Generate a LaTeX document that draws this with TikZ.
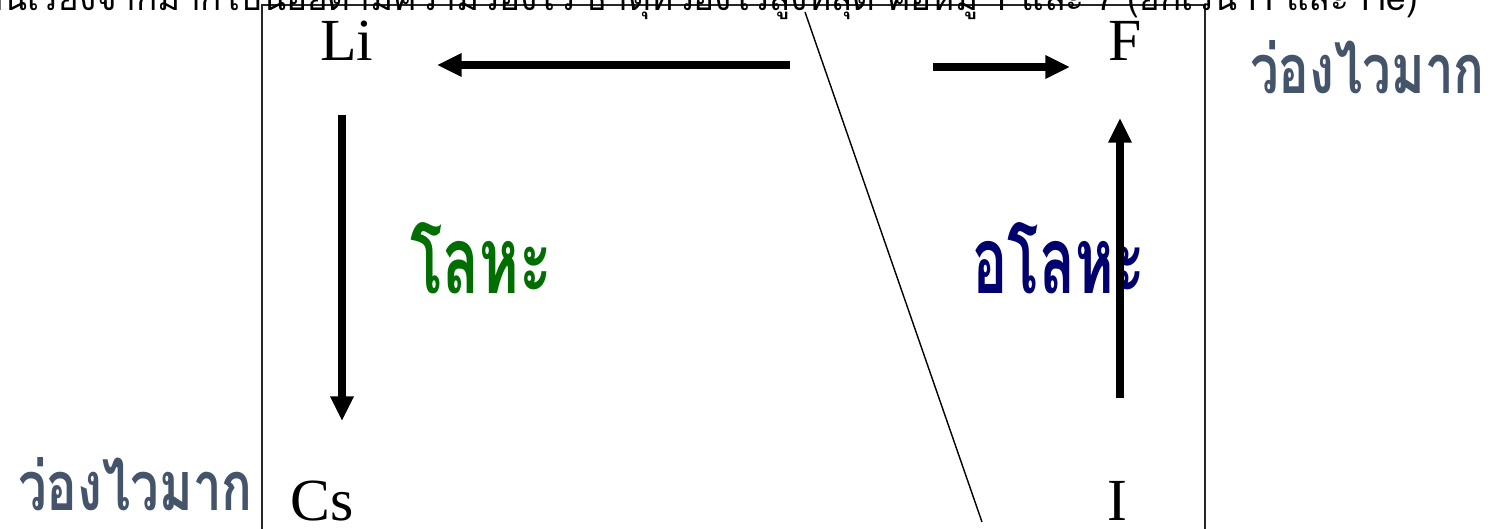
\documentclass[tikz,border=0pt]{standalone}
\usepackage{fontspec}
\setmainfont{Liberation Serif}
\newfontfamily\thai[Script=Thai]{Loma}
\usetikzlibrary{arrows.meta}
\definecolor{slate}{RGB}{68,84,106}
\definecolor{metalgreen}{RGB}{0,110,0}
\definecolor{navytext}{RGB}{0,0,110}
\newlength\pxu
\setlength\pxu{0.02cm}
\begin{document}
\begin{tikzpicture}[x=0.02cm,y=-0.02cm,
  elem/.style={inner sep=0pt, anchor=base west, font=\fontsize{34}{34}\selectfont},
  fatarrow/.style={line width=4pt, -{Triangle[length=14pt,width=12.5pt]}},
  boxline/.style={line width=0.9pt, draw=black!85},
  hairline/.style={line width=0.8pt},
  tlabel/.style={inner sep=0pt, anchor=north west}]
\clip (0,0) rectangle (1499,528);
\fill[white] (0,0) rectangle (1499,528);
% frame
\draw[boxline] (262,560) -- (262,5) -- (1205,5) -- (1205,560);
% cut-off heading
\node[inner sep=0pt, anchor=base east, font=\thai\fontsize{20}{20}\selectfont] (title) at (1418,10)
  {ธาตุในหมู่เดียวกันเรียงจากมากไปน้อยตามความว่องไว ธาตุที่ว่องไวสูงที่สุด คือหมู่ 1 และ 7 (ยกเว้น H และ He)};
% elements
\node[elem] (Li) at (320,60) {Li};
\node[elem] (F) at (1108,60) {F};
\node[elem] (Cs) at (290,520) {Cs};
\node[elem] (I) at (1107,520) {I};
% labels
\node[tlabel, text=slate] (fastR) at (1250,40) {\resizebox{234\pxu}{53\pxu}{\thai\bfseries ว่องไวมาก}};
\node[tlabel, text=slate] (fastL) at (18,457) {\resizebox{234\pxu}{53\pxu}{\thai\bfseries ว่องไวมาก}};
\node[tlabel, text=metalgreen] (metal) at (410,222) {\resizebox{142\pxu}{71\pxu}{\thai\bfseries โลหะ}};
\node[tlabel, text=navytext] (nonmetal) at (972,222) {\resizebox{173\pxu}{71\pxu}{\thai\bfseries อโลหะ}};
% arrows
\coordinate (a1s) at (790,65); \coordinate (a1e) at (437,65);
\coordinate (a2s) at (933,67); \coordinate (a2e) at (1070,67);
\coordinate (a3s) at (342,115); \coordinate (a3e) at (342,421);
\coordinate (a4s) at (1120,398); \coordinate (a4e) at (1120,118);
\draw[fatarrow] (a1s) -- (a1e);
\draw[fatarrow] (a2s) -- (a2e);
\draw[fatarrow] (a3s) -- (a3e);
\draw[fatarrow] (a4s) -- (a4e);
% diagonal line
\coordinate (d1) at (805,12); \coordinate (d2) at (982,522);
\draw[hairline] (d1) -- (d2);
\end{tikzpicture}
\end{document}
